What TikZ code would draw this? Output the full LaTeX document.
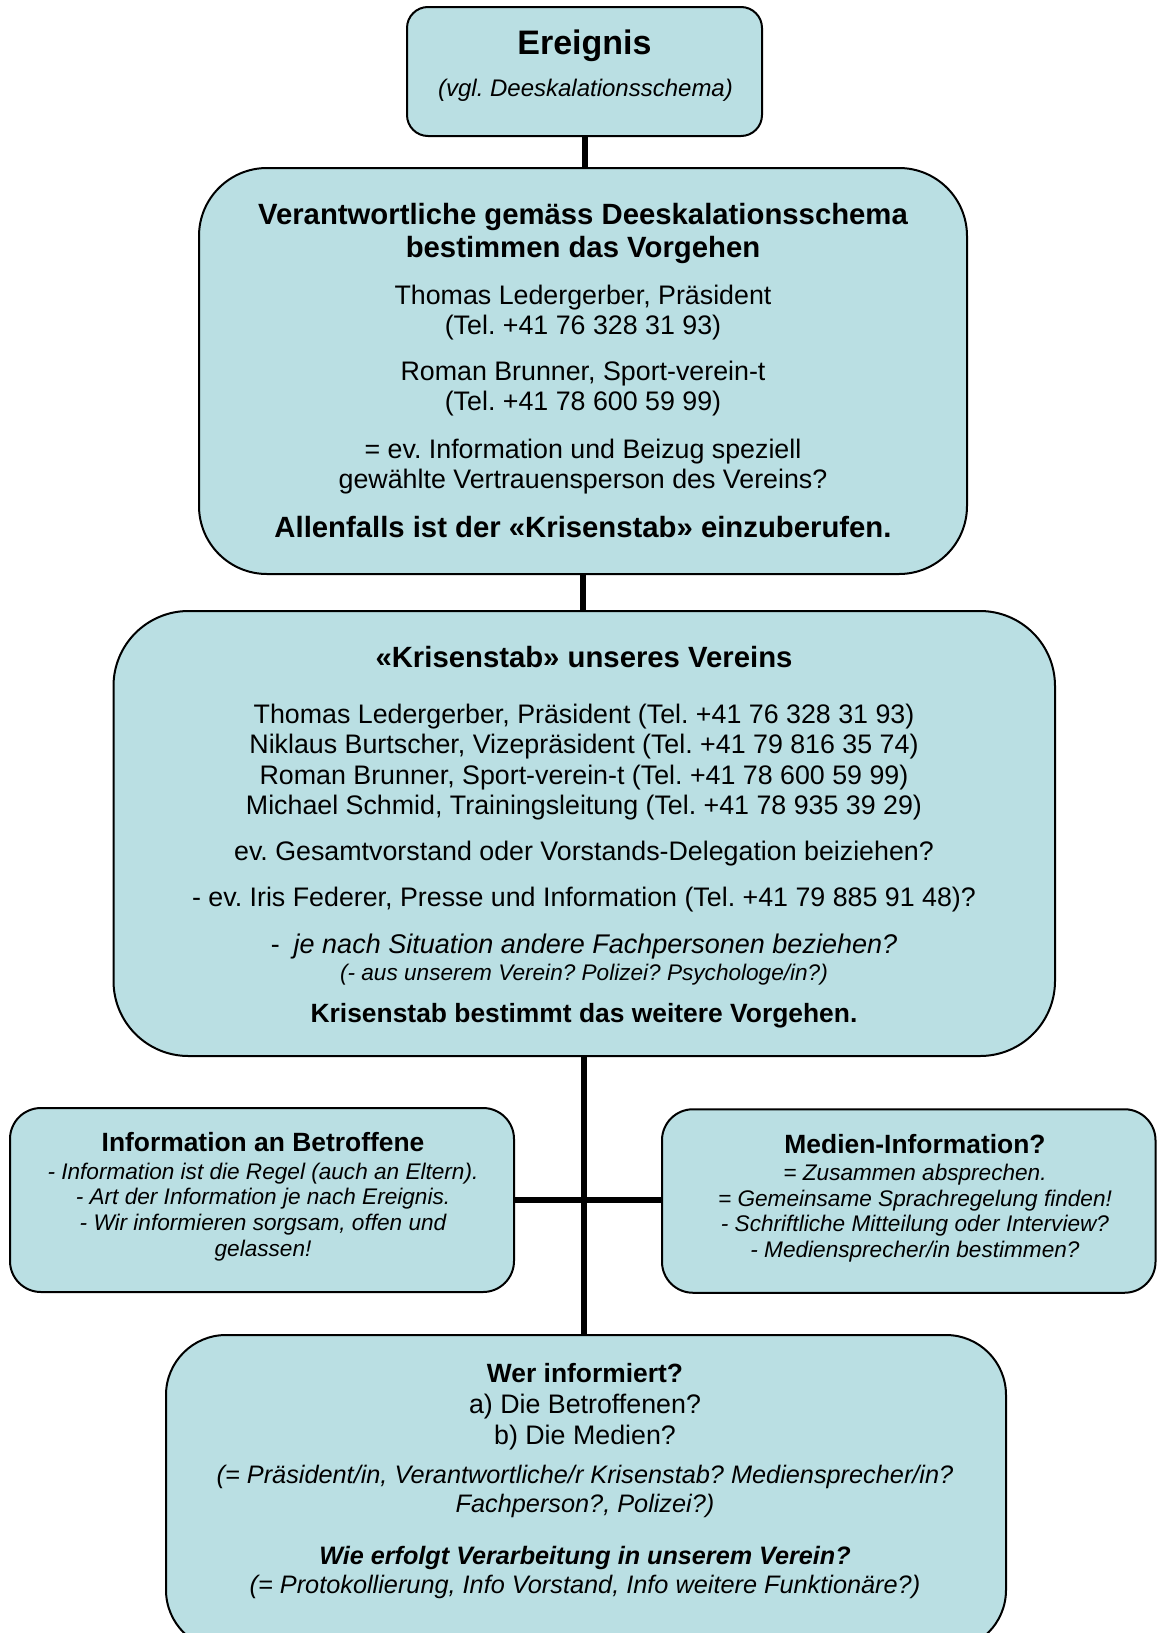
\documentclass[tikz,border=0pt]{standalone}
\usepackage{fontspec}
\setmainfont{Liberation Sans}
\frenchspacing
\definecolor{boxfill}{RGB}{186,223,227}
\begin{document}
\begin{tikzpicture}[x=1pt,y=-1pt,
 box/.style={draw=black, line width=2pt, fill=boxfill, inner sep=0pt, outer sep=0pt},
 conn/.style={line width=6pt, draw=black},
 txt/.style={anchor=base, inner sep=0pt, outer sep=0pt},
 big/.style={txt, font=\fontsize{34}{40}\selectfont\bfseries},
 hb/.style={txt, font=\fontsize{29.3}{34}\selectfont\bfseries},
 hs/.style={txt, font=\fontsize{26.4}{30}\selectfont\bfseries},
 rg/.style={txt, font=\fontsize{26.8}{30}\selectfont},
 it/.style={txt, font=\fontsize{24}{28}\selectfont\itshape},
 itm/.style={txt, font=\fontsize{25.3}{29}\selectfont\itshape},
 bim/.style={txt, font=\fontsize{25.2}{29}\selectfont\bfseries\itshape},
 its/.style={txt, font=\fontsize{22.6}{26}\selectfont\itshape},
]
\useasboundingbox (0,0) rectangle (1157,1633);
\clip (0,0) rectangle (1157,1633);
\fill[white] (0,0) rectangle (1157,1633);

% boxes
\node[box, rounded corners=21pt, minimum width=355pt, minimum height=129pt] (b1) at (584.5,71.5) {};
\node[box, rounded corners=68pt, minimum width=768pt, minimum height=406pt] (b2) at (583,371) {};
\node[box, rounded corners=75pt, minimum width=941.5pt, minimum height=445pt] (b3) at (584.25,833.5) {};
\node[box, rounded corners=31pt, minimum width=504pt, minimum height=184pt] (b4) at (262,1200) {};
\node[box, rounded corners=31pt, minimum width=493.5pt, minimum height=183.5pt] (b6) at (908.75,1201) {};
\node[box, rounded corners=60pt, minimum width=840pt, minimum height=315pt] (b5) at (586,1492.5) {};

% connectors
\draw[conn] (b1.south) -- (b1.south |- b2.north);
\draw[conn] (b2.south) -- (b2.south |- b3.north);
\draw[conn] (b3.south) -- (b3.south |- b5.north);
\draw[conn] (b4.east) -- (b4.east -| b6.west);

% box 1
\node[big] (t1) at (584.5,54.3) {Ereignis};
\node[it] (t2) at (585.5,96.7) {(vgl. Deeskalationsschema)};

% box 2
\node[hb] (t3) at (583,224) {Verantwortliche gemäss Deeskalationsschema};
\node[hb] (t4) at (583,257) {bestimmen das Vorgehen};
\node[rg] (t5) at (583,304) {Thomas Ledergerber, Präsident};
\node[rg] (t6) at (583,334) {(Tel. +41 76 328 31 93)};
\node[rg] (t7) at (583,380) {Roman Brunner, Sport-verein-t};
\node[rg] (t8) at (583,410.5) {(Tel. +41 78 600 59 99)};
\node[rg] (t9) at (583,458.5) {= ev. Information und Beizug speziell};
\node[rg] (t10) at (583,488) {gewählte Vertrauensperson des Vereins?};
\node[hb] (t11) at (583,537.5) {Allenfalls ist der «Krisenstab» einzuberufen.};

% box 3
\node[hb] (t12) at (584,667.5) {«Krisenstab» unseres Vereins};
\node[rg] (t13) at (584,723) {Thomas Ledergerber, Präsident (Tel. +41 76 328 31 93)};
\node[rg] (t14) at (584,753.5) {Niklaus Burtscher, Vizepräsident (Tel. +41 79 816 35 74)};
\node[rg] (t15) at (584,784) {Roman Brunner, Sport-verein-t (Tel. +41 78 600 59 99)};
\node[rg] (t16) at (584,814) {Michael Schmid, Trainingsleitung (Tel. +41 78 935 39 29)};
\node[rg] (t17) at (584,860.5) {ev. Gesamtvorstand oder Vorstands-Delegation beiziehen?};
\node[rg] (t18) at (584,906.5) {- ev. Iris Federer, Presse und Information (Tel. +41 79 885 91 48)?};
\node[rg] (t19) at (584,953) {-\hspace{14pt}{\fontsize{27}{30}\selectfont\itshape je nach Situation andere Fachpersonen beziehen?}};
\node[its] (t20) at (584,980) {(- aus unserem Verein? Polizei? Psychologe/in?)};
\node[hs] (t21) at (584,1022) {Krisenstab bestimmt das weitere Vorgehen.};

% box 4
\node[hs] (t22) at (263,1151) {Information an Betroffene};
\node[its] (t23) at (263,1179) {- Information ist die Regel (auch an Eltern).};
\node[its] (t24) at (263,1204.5) {- Art der Information je nach Ereignis.};
\node[its] (t25) at (263,1230.5) {- Wir informieren sorgsam, offen und};
\node[its] (t26) at (263,1256) {gelassen!};

% box 6
\node[hs] (t27) at (915,1153.5) {Medien-Information?};
\node[its] (t28) at (915,1180) {= Zusammen absprechen.};
\node[its] (t29) at (915,1206) {= Gemeinsame Sprachregelung finden!};
\node[its] (t30) at (915,1231.5) {- Schriftliche Mitteilung oder Interview?};
\node[its] (t31) at (915,1257.5) {- Mediensprecher/in bestimmen?};

% box 5
\node[hs] (t32) at (585,1382.5) {Wer informiert?};
\node[rg] (t33) at (585,1413.5) {a) Die Betroffenen?};
\node[rg] (t34) at (585,1444.5) {b) Die Medien?};
\node[itm] (t35) at (585,1483) {(= Präsident/in, Verantwortliche/r Krisenstab? Mediensprecher/in?};
\node[itm] (t36) at (585,1512) {Fachperson?, Polizei?)};
\node[bim] (t37) at (585,1564) {Wie erfolgt Verarbeitung in unserem Verein?};
\node[itm] (t38) at (585,1593) {(= Protokollierung, Info Vorstand, Info weitere Funktionäre?)};
\end{tikzpicture}
\end{document}
